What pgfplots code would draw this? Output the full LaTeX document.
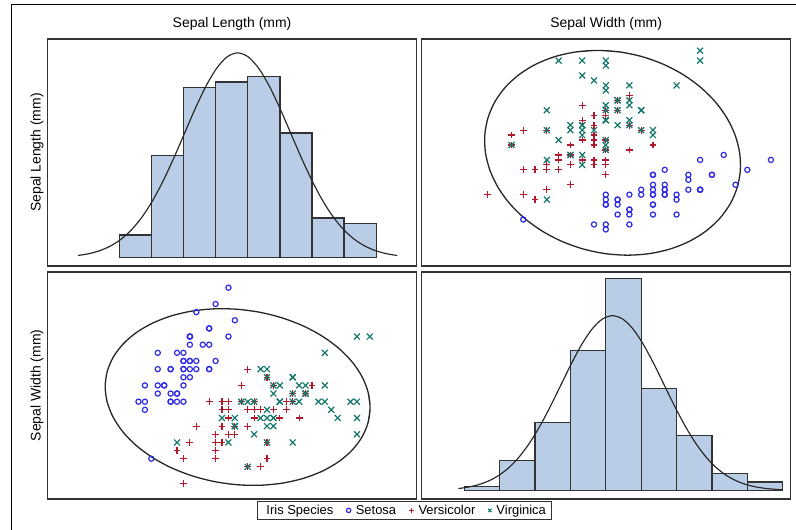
\documentclass[border=0pt]{standalone}
\usepackage{pgfplots}
\pgfplotsset{compat=1.18}
\usepackage{pgfplotstable}
\usepackage{fontspec}
\setmainfont{Liberation Sans}

\definecolor{barfill}{HTML}{B9CDE6}
\definecolor{cSetosa}{HTML}{2E2AE6}
\definecolor{cVersi}{HTML}{B2182B}
\definecolor{cVirgin}{HTML}{13786B}
\definecolor{cellframe}{gray}{0.2}

% Fisher's iris data, sepal length (L) and sepal width (W) in mm
\pgfplotstableread{
L W
51 35
49 30
47 32
46 31
50 36
54 39
46 34
50 34
44 29
49 31
54 37
48 34
48 30
43 30
58 40
57 44
54 39
51 35
57 38
51 38
54 34
51 37
46 36
51 33
48 34
50 30
50 34
52 35
52 34
47 32
48 31
54 34
52 41
55 42
49 31
50 32
55 35
49 36
44 30
51 34
50 35
45 23
44 32
50 35
51 38
48 30
51 38
46 32
53 37
50 33
}\tabSetosa

\pgfplotstableread{
L W
70 32
64 32
69 31
55 23
65 28
57 28
63 33
49 24
66 29
52 27
50 20
59 30
60 22
61 29
56 29
67 31
56 30
58 27
62 22
56 25
59 32
61 28
63 25
61 28
64 29
66 30
68 28
67 30
60 29
57 26
55 24
55 24
58 27
60 27
54 30
60 34
67 31
63 23
56 30
55 25
55 26
61 30
58 26
50 23
56 27
57 30
57 29
62 29
51 25
57 28
}\tabVersi

\pgfplotstableread{
L W
63 33
58 27
71 30
63 29
65 30
76 30
49 25
73 29
67 25
72 36
65 32
64 27
68 30
57 25
58 28
64 32
65 30
77 38
77 26
60 22
69 32
56 28
77 28
63 27
67 33
72 32
62 28
61 30
64 28
72 30
74 28
79 38
64 28
63 28
61 26
77 30
63 34
64 31
60 30
69 31
67 31
69 31
58 27
68 32
67 33
67 30
63 25
65 30
62 34
59 30
}\tabVirgin

% 95% prediction ellipse of (L, W)
\pgfplotstableread{
L W
78.734 27.446
79.047 29.297
78.734 31.188
77.804 33.060
76.285 34.856
74.224 36.522
71.683 38.007
68.740 39.267
65.483 40.262
62.013 40.963
58.433 41.348
54.853 41.406
51.383 41.135
48.126 40.543
45.183 39.647
42.642 38.477
40.581 37.065
39.062 35.457
38.132 33.700
37.819 31.849
38.132 29.958
39.062 28.086
40.581 26.290
42.642 24.624
45.183 23.139
48.126 21.879
51.383 20.884
54.853 20.183
58.433 19.798
62.013 19.740
65.483 20.011
68.740 20.603
71.683 21.499
74.224 22.670
76.285 24.081
77.804 25.689
78.734 27.446
79.047 29.297
78.734 31.188
}\tabEllipse

% Histogram of sepal length (percent), bins of 5 mm; last row closes the interval
\pgfplotstableread{
x y
40 2.667
45 12
50 20
55 20.667
60 21.333
65 14.667
70 4.667
75 4
80 4
}\tabLenHist

% Fitted normal density, scaled to the 5 mm bins
\pgfplotstableread{
x y
33.590 0.268
35.246 0.478
36.902 0.820
38.559 1.352
40.215 2.142
41.871 3.260
43.527 4.767
45.183 6.697
46.840 9.040
48.496 11.725
50.152 14.610
51.808 17.492
53.464 20.120
55.121 22.236
56.777 23.611
58.433 24.088
60.089 23.611
61.745 22.236
63.402 20.120
65.058 17.492
66.714 14.610
68.370 11.725
70.026 9.040
71.683 6.697
73.339 4.767
74.995 3.260
76.651 2.142
78.307 1.352
79.964 0.820
81.620 0.478
83.276 0.268
}\tabLenCurve

% Histogram of sepal width (percent), bins of 3 mm
\pgfplotstableread{
x y
18 0.667
21 4.667
24 10.667
27 22
30 33.333
33 16
36 8.667
39 2.667
42 1.333
45 1.333
}\tabWidHist

% Fitted normal density, scaled to the 3 mm bins
\pgfplotstableread{
x y
17.497 0.305
18.369 0.545
19.240 0.935
20.112 1.541
20.984 2.442
21.856 3.716
22.727 5.434
23.599 7.635
24.471 10.306
25.343 13.366
26.214 16.655
27.086 19.939
27.958 22.936
28.830 25.348
29.701 26.915
30.573 27.459
31.445 26.915
32.316 25.348
33.188 22.936
34.060 19.939
34.932 16.655
35.803 13.366
36.675 10.306
37.547 7.635
38.419 5.434
39.290 3.716
40.162 2.442
41.034 1.541
41.906 0.935
42.777 0.545
43.649 0.305
44.521 0.164
45.000 0.115
}\tabWidCurve

\pgfplotsset{
  cell/.style={scale only axis, width=369bp, height=227bp, anchor=south west,
    xtick=\empty, ytick=\empty,
    axis line style={cellframe, line width=1.2bp}},
  histbar/.style={ybar interval, fill=barfill, draw=black!80, line width=1.35bp},
  normcurve/.style={smooth, draw=black!85, line width=1.15bp, mark=none},
  ellip/.style={smooth, draw=black!85, line width=1.3bp, mark=none},
  mSetosa/.style={only marks, mark=o, mark size=2.6bp, color=cSetosa,
    mark options={line width=1.2bp}},
  mVersi/.style={only marks, mark=+, mark size=3.4bp, color=cVersi,
    mark options={line width=1.2bp}},
  mVirgin/.style={only marks, mark=x, mark size=4.2bp, color=cVirgin,
    mark options={line width=1.2bp}},
}

\begin{document}
\begin{tikzpicture}[x=1bp, y=1bp]
\path[use as bounding box] (0,0) rectangle (796,530);
\draw[black, line width=1bp] (11.5,0) -- (11.5,525) -- (796,525);

% column headers and row labels
\node[font=\fontsize{14}{16}\selectfont, anchor=base] at (232,502.5) {Sepal Length (mm)};
\node[font=\fontsize{14}{16}\selectfont, anchor=base] at (606.2,502.5) {Sepal Width (mm)};
\node[font=\fontsize{14}{16}\selectfont, anchor=base, rotate=90] at (40.5,377.5) {Sepal Length (mm)};
\node[font=\fontsize{14}{16}\selectfont, anchor=base, rotate=90] at (40.5,144.5) {Sepal Width (mm)};

% top left: sepal length distribution
\begin{axis}[cell, at={(47.5bp,264bp)},
  xmin=28.84, xmax=86.27, ymin=-0.964, ymax=25.72]
  \addplot[histbar] table {\tabLenHist};
  \addplot[normcurve] table {\tabLenCurve};
\end{axis}

% top right: length against width
\begin{axis}[cell, at={(421.7bp,264bp)},
  xmin=14.39, xmax=45.68, ymin=35.64, ymax=81.35]
  \addplot[ellip] table[x=W, y=L] {\tabEllipse};
  \addplot[mSetosa] table[x=W, y=L] {\tabSetosa};
  \addplot[mVersi] table[x=W, y=L] {\tabVersi};
  \addplot[mVirgin] table[x=W, y=L] {\tabVirgin};
\end{axis}

% bottom left: width against length, with the species legend
\begin{axis}[cell, at={(47.5bp,31bp)},
  xmin=28.84, xmax=86.27, ymin=18.05, ymax=45.93,
  legend columns=-1,
  legend image code/.code={\draw[mark repeat=2, mark phase=2, #1, mark size=2.2bp]
    plot coordinates {(0bp,0bp) (5bp,0bp) (10bp,0bp)};},
  legend style={at={(0.968,-0.0088)}, anchor=north,
    draw=cellframe, line width=1bp,
    font=\fontsize{13}{15}\selectfont,
    inner xsep=4bp, inner ysep=1.5bp,
    /tikz/every odd column/.append style={column sep=3bp},
    /tikz/every even column/.append style={column sep=11bp}}]
  \addlegendimage{empty legend}
  \addlegendentry{Iris Species}
  \addplot[ellip, forget plot] table[x=L, y=W] {\tabEllipse};
  \addplot[mSetosa] table[x=L, y=W] {\tabSetosa};
  \addlegendentry{Setosa}
  \addplot[mVersi] table[x=L, y=W] {\tabVersi};
  \addlegendentry{Versicolor}
  \addplot[mVirgin] table[x=L, y=W] {\tabVirgin};
  \addlegendentry{Virginica}
\end{axis}

% bottom right: sepal width distribution
\begin{axis}[cell, at={(421.7bp,31bp)},
  xmin=14.39, xmax=45.68, ymin=-1.335, ymax=34.32]
  \addplot[histbar] table {\tabWidHist};
  \addplot[normcurve] table {\tabWidCurve};
\end{axis}
\end{tikzpicture}
\end{document}
